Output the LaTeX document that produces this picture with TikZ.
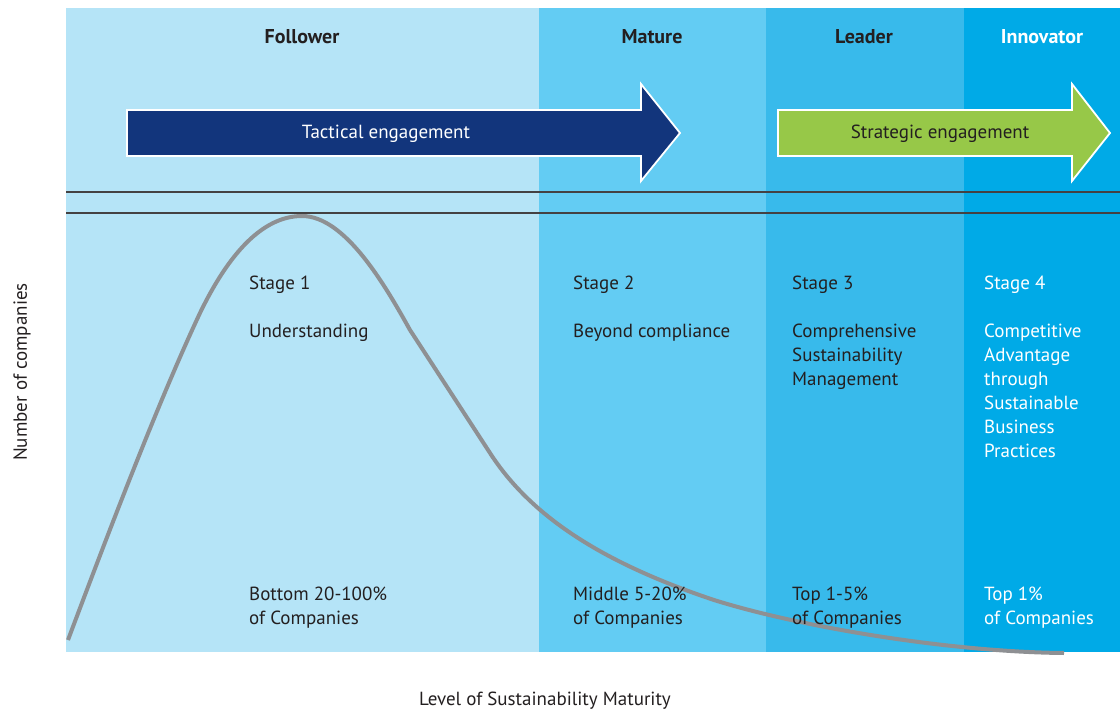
\documentclass[tikz,border=0pt]{standalone}
\usepackage{fontspec}
\setmainfont{PT Sans}
\usepackage{tikz}
\definecolor{bandA}{HTML}{B5E4F7}
\definecolor{bandB}{HTML}{63CCF3}
\definecolor{bandC}{HTML}{38BAEB}
\definecolor{bandD}{HTML}{00AAE7}
\definecolor{tactblue}{HTML}{12357C}
\definecolor{stratgreen}{HTML}{97C848}
\definecolor{curvegrey}{HTML}{8E9093}
\definecolor{inkdark}{HTML}{231F20}

\begin{document}
\begin{tikzpicture}[x=1pt,y=-1pt,
	txt/.style={inner sep=0pt,text=inkdark,font=\fontsize{19}{24}\selectfont,align=left},
	head/.style={txt,font=\fontsize{20}{24}\selectfont\bfseries}]
	\useasboundingbox (0,0) rectangle (1120,709);
	\fill[bandA] (66,8) rectangle (539,652);
	\fill[bandB] (539,8) rectangle (766,652);
	\fill[bandC] (766,8) rectangle (964,652);
	\fill[bandD] (964,8) rectangle (1120,652);
	\draw[inkdark!85,line width=1.2pt] (66,192) -- (1120,192);
	\draw[inkdark!85,line width=1.2pt] (66,213) -- (1120,213);
	\node[head,anchor=base] (follower) at (302,44) {Follower};
	\node[head,anchor=base] (mature) at (652,44) {Mature};
	\node[head,anchor=base] (leader) at (864,44) {Leader};
	\node[head,anchor=base,text=white] (innovator) at (1042,44) {Innovator};
	\draw[fill=tactblue,draw=white,line width=1.8pt] (127,110) -- (641,110) -- (641,84) -- (680,133) -- (641,181) -- (641,156) -- (127,156) -- cycle;
	\draw[fill=stratgreen,draw=white,line width=1.8pt] (778,110) -- (1072,110) -- (1072,84) -- (1110,133) -- (1072,181) -- (1072,156) -- (778,156) -- cycle;
	\node[txt,anchor=base,text=white] (tactical) at (386,138) {Tactical engagement};
	\node[txt,anchor=base] (strategic) at (940,138) {Strategic engagement};
	\draw[curvegrey,line width=4pt] (68,640) .. controls (110,528) and (160,398) .. (200,313)
		.. controls (228,255) and (262,216) .. (302,216)
		.. controls (345,216) and (385,285) .. (410,330)
		-- (490,453) .. controls (530,515) and (600,562) .. (714,600)
		.. controls (800,627) and (950,652) .. (1064,653);
	\node[txt,anchor=base west] (stage1) at (249,289) {Stage 1};
	\node[txt,anchor=base west] (under) at (249,337) {Understanding};
	\node[txt,anchor=base west] (stage2) at (573,289) {Stage 2};
	\node[txt,anchor=base west] (beyond) at (573,337) {Beyond compliance};
	\node[txt,anchor=base west] (stage3) at (792,289) {Stage 3};
	\node[txt,anchor=base west] (compre) at (792,385) {Comprehensive\\Sustainability\\Management};
	\node[txt,anchor=base west,text=white] (stage4) at (984,289) {Stage 4};
	\node[txt,anchor=base west,text=white] (compet) at (984,457) {Competitive\\Advantage\\through\\Sustainable\\Business\\Practices};
	\node[txt,anchor=base west] (bottom) at (249,624) {Bottom 20-100\%\\of Companies};
	\node[txt,anchor=base west] (middle) at (573,624) {Middle 5-20\%\\of Companies};
	\node[txt,anchor=base west] (topfive) at (792,624) {Top 1-5\%\\of Companies};
	\node[txt,anchor=base west,text=white] (topone) at (984,624) {Top 1\%\\of Companies};
	\node[txt,anchor=base] (xlabel) at (545,705) {Level of Sustainability Maturity};
	\node[txt,anchor=base,rotate=90] (ylabel) at (27,372) {Number of companies};
\end{tikzpicture}
\end{document}
